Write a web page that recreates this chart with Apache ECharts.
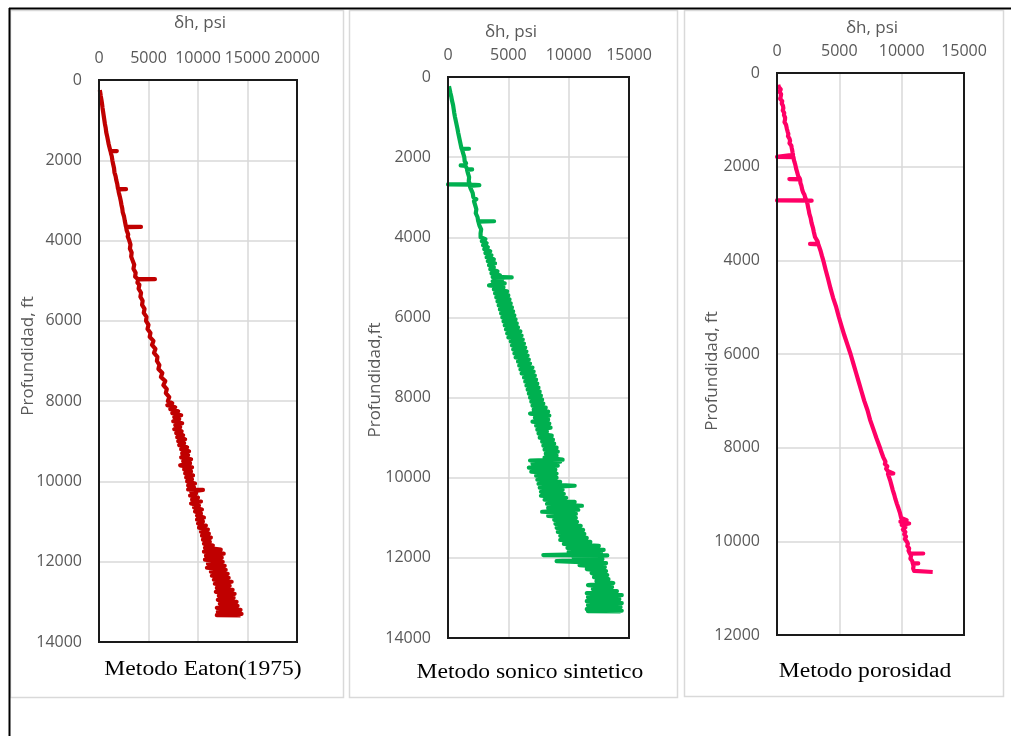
<!DOCTYPE html>
<html>
<head>
<meta charset="utf-8">
<script src="https://cdn.jsdelivr.net/npm/echarts@6/dist/echarts.min.js"></script>
<style>
  html, body { margin: 0; padding: 0; background: #fff; }
  #chart { width: 1011px; height: 736px; }
</style>
</head>
<body>
<div id="chart"></div>
<script>
// Pressure logs, each row is [depth ft, δh psi]
const eatonLog = [
  [250,80],[300,120],[400,180],[500,250],[600,310],[700,360],[800,420],[900,480],[1000,540],
  [1100,600],[1200,680],[1300,730],[1400,820],[1500,900],[1600,980],[1700,1080],[1765,1150],
  [1770,1800],[1775,1170],[1850,1230],[1900,1290],[2000,1350],[2100,1430],[2200,1520],[2300,1560],
  [2400,1680],[2500,1750],[2600,1850],[2715,1920],[2720,2730],[2725,1950],[2800,2000],[2900,2100],
  [3000,2190],[3100,2260],[3200,2350],[3300,2400],[3400,2530],[3500,2600],[3600,2680],[3655,2720],
  [3660,4240],[3665,2740],[3750,2800],[3850,2950],[3900,2900],[4000,3060],[4100,3180],[4200,3120],
  [4300,3300],[4400,3250],[4500,3400],[4600,3560],[4700,3480],[4800,3700],[4900,3650],[4955,3900],
  [4960,5650],[4965,3950],[5050,3880],[5100,4080],[5200,4000],[5300,4250],[5400,4180],[5500,4410],
  [5600,4350],[5700,4600],[5800,4520],[5900,4800],[6000,4750],[6100,5000],[6200,4900],[6300,5200],
  [6400,5120],[6500,5500],[6600,5350],[6700,5700],[6800,5550],[6900,5900],[7000,5850],[7100,6100],
  [7200,6000],[7300,6400],[7400,6250],[7500,6700],[7600,6500],[7700,6850],[7800,6750],[7900,7100],
  [8000,6950],[8050,7400],[8100,6900],[8150,7700],[8200,7200],[8250,8000],[8300,7400],[8350,8300],
  [8400,7600],[8450,8100],[8500,7500],[8550,8400],[8600,7700],[8650,8200],[8700,7600],[8750,8350],
  [8800,7800],[8850,8500],[8900,7900],[8950,8700],[9000,8000],[9050,8600],[9100,8100],[9150,8900],
  [9200,8300],[9250,9100],[9300,8400],[9350,9000],[9400,8300],[9450,9300],[9500,8500],[9550,9200],
  [9600,8200],[9650,9400],[9700,8600],[9750,9300],[9800,8700],[9850,9500],[9900,8800],[9950,9400],
  [10000,8900],[10050,9700],[10100,9000],[10150,9600],[10200,9000],[10210,10500],[10250,9300],
  [10300,9800],[10350,9200],[10400,10000],[10450,9400],[10500,10300],[10550,9300],[10600,10100],
  [10650,9600],[10700,10400],[10750,9700],[10800,10300],[10850,9900],[10900,10600],[10950,9900],
  [11000,10500],[11050,10000],[11100,10800],[11150,10100],[11200,11000],[11250,10300],[11300,11100],
  [11350,10400],[11400,11300],[11450,10500],[11500,11200],[11550,10600],[11600,11500],[11650,10700],
  [11700,12300],[11750,10600],[11800,12600],[11850,10800],[11900,12400],[11950,10700],[12000,12500],
  [12050,11000],[12100,12700],[12150,10900],[12200,12800],[12250,11300],[12300,13000],[12350,11400],
  [12400,13100],[12450,11600],[12500,13400],[12550,11700],[12600,13200],[12650,11900],[12700,13500],
  [12750,11800],[12800,13700],[12850,12100],[12900,13600],[12950,12000],[13000,13900],[13050,12200],
  [13100,14000],[13150,11900],[13200,14300],[13250,12000],[13300,14400],[13330,11900],[13340,14300]
];

const sonicLog = [
  [230,80],[300,130],[400,200],[500,280],[600,340],[700,420],[800,470],[900,520],[1000,580],
  [1100,650],[1200,720],[1300,790],[1400,850],[1500,920],[1600,990],[1700,1060],[1785,1120],
  [1790,1740],[1795,1150],[1900,1250],[2000,1350],[2100,1380],[2150,1500],[2200,1400],[2205,1050],
  [2220,1450],[2300,1600],[2305,2000],[2320,1580],[2400,1650],[2500,1750],[2600,1720],[2675,1820],
  [2680,0],[2685,1850],[2700,2600],[2720,1800],[2800,1900],[2900,2050],[3000,2100],[3050,2350],
  [3100,2150],[3200,2250],[3300,2350],[3400,2300],[3500,2450],[3595,2500],[3600,3820],[3610,2520],
  [3700,2600],[3800,2750],[3900,2700],[4000,2700],[4050,3100],[4100,2800],[4150,3200],[4200,2900],
  [4250,3300],[4300,3000],[4350,3500],[4400,3100],[4450,3600],[4500,3200],[4550,3800],[4600,3300],
  [4650,3900],[4700,3400],[4750,3800],[4800,3500],[4850,4100],[4900,3600],[4950,4300],[4990,3700],
  [5000,5280],[5010,3800],[5050,4500],[5100,3700],[5150,4700],[5200,3400],[5220,4000],[5250,4600],
  [5300,3800],[5350,4900],[5400,3900],[5450,5000],[5500,4000],[5550,5100],[5600,4100],[5650,5200],
  [5700,4200],[5750,5300],[5800,4300],[5850,5400],[5900,4400],[5950,5500],[6000,4500],[6050,5600],
  [6100,4600],[6150,5700],[6200,4700],[6250,5800],[6300,4800],[6350,6000],[6400,4900],[6450,6100],
  [6500,5000],[6550,6200],[6600,5200],[6650,6300],[6700,5300],[6750,6400],[6800,5400],[6850,6500],
  [6900,5500],[6950,6600],[7000,5600],[7050,6700],[7100,5800],[7150,6800],[7200,5900],[7250,7000],
  [7300,6000],[7350,7100],[7400,6100],[7450,7200],[7500,6300],[7550,7300],[7600,6400],[7650,7400],
  [7700,6500],[7750,7500],[7800,6600],[7850,7600],[7900,6700],[7950,7700],[8000,6800],[8050,7800],
  [8100,6900],[8150,7900],[8200,7000],[8250,8100],[8300,7100],[8350,8300],[8400,6800],[8450,8400],
  [8500,7200],[8550,8300],[8600,7000],[8650,8400],[8700,7300],[8750,8500],[8800,7400],[8850,8200],
  [8900,7500],[8950,8600],[9000,7600],[9050,8700],[9100,7800],[9150,8800],[9200,7900],[9250,9000],
  [9300,8000],[9350,9100],[9400,8100],[9450,9000],[9500,8000],[9550,9500],[9570,6800],[9600,9300],
  [9650,7000],[9700,9100],[9750,6700],[9800,8900],[9850,6900],[9900,9000],[9950,7300],[10000,9000],
  [10050,7400],[10100,9300],[10150,7500],[10200,10500],[10250,7600],[10300,9500],[10350,7700],
  [10400,9600],[10450,7700],[10500,9800],[10550,8000],[10600,10500],[10650,8200],[10700,11100],
  [10750,8300],[10800,10800],[10850,7800],[10900,10600],[10950,8300],[11000,10600],[11050,8800],
  [11100,10700],[11150,8900],[11200,11000],[11250,9000],[11300,11200],[11350,9100],[11400,11300],
  [11450,9300],[11500,11500],[11550,9300],[11600,11800],[11650,9600],[11700,12500],[11750,9900],
  [11800,12900],[11850,10000],[11900,12700],[11930,7900],[11940,13200],[11980,10400],[12030,12800],
  [12080,9000],[12130,13100],[12180,10900],[12230,13000],[12280,11500],[12330,13100],[12380,11900],
  [12430,13200],[12480,12100],[12530,13300],[12580,12300],[12630,13700],[12680,11600],[12730,13600],
  [12780,12000],[12830,14000],[12880,11500],[12930,14400],[12980,11600],[13030,14200],[13080,11500],
  [13130,14400],[13180,11600],[13230,14300],[13280,11500],[13320,14400],[13330,11600],[13335,14300]
];

const porosityLog = [
  [250,100],[270,250],[300,150],[350,300],[400,200],[450,330],[500,300],[550,250],[600,420],
  [650,380],[700,480],[750,510],[800,460],[850,580],[900,560],[950,650],[1000,640],[1050,600],
  [1100,720],[1150,760],[1200,800],[1250,850],[1300,910],[1350,880],[1400,1000],[1450,1050],
  [1500,1000],[1550,1150],[1600,1180],[1650,1220],[1700,1250],[1750,1290],[1785,1310],[1790,0],
  [1795,1320],[1850,1350],[1900,1400],[1950,1460],[2000,1500],[2050,1540],[2100,1600],[2150,1650],
  [2200,1700],[2260,1840],[2265,990],[2270,1850],[2300,1870],[2350,1880],[2400,1950],[2450,1990],
  [2500,2030],[2550,2100],[2600,2200],[2650,2250],[2715,2350],[2720,0],[2725,2780],[2730,2380],
  [2800,2450],[2850,2480],[2900,2520],[2950,2560],[3000,2590],[3100,2700],[3200,2770],[3300,2880],
  [3400,2960],[3500,3050],[3600,3260],[3645,3300],[3650,2650],[3660,3320],[3700,3360],[3800,3500],
  [3900,3600],[4000,3710],[4200,3900],[4400,4100],[4600,4290],[4800,4500],[5000,4750],[5200,4950],
  [5400,5170],[5600,5400],[5800,5650],[6000,5900],[6200,6120],[6400,6340],[6600,6560],[6800,6780],
  [7000,7000],[7200,7260],[7400,7460],[7600,7720],[7800,7980],[8000,8260],[8100,8380],[8200,8520],
  [8300,8700],[8350,8650],[8400,8850],[8450,8750],[8500,8900],[8550,9330],[8560,8900],[8600,9000],
  [8700,9080],[8800,9180],[8900,9280],[9000,9400],[9100,9500],[9200,9620],[9300,9750],[9400,9870],
  [9500,9960],[9550,10400],[9580,9900],[9620,10600],[9650,10000],[9700,10300],[9750,10100],
  [9800,10300],[9850,10200],[9900,10350],[9950,10250],[10000,10400],[10050,10500],[10100,10450],
  [10150,10600],[10200,10550],[10255,10650],[10260,11730],[10265,10700],[10320,10750],[10370,10700],
  [10420,10850],[10465,10880],[10470,11330],[10475,10900],[10530,10950],[10580,10920],[10630,11000],
  [10650,10990],[10655,12490]
];

// Axis ranges and captions
const depthMax = [14000, 14000, 12000];
const psiMax = [20000, 15000, 15000];
const panelTitles = ['Metodo Eaton(1975)', 'Metodo sonico sintetico', 'Metodo porosidad'];
const depthNames = ['Profundidad, ft', 'Profundidad,ft', 'Profundidad, ft'];
const psiName = 'δh, psi';
const lineColors = ['#C00000', '#00B050', '#FF0066'];
const logs = [eatonLog, sonicLog, porosityLog];

const grids = [
  { left: 99, top: 80, width: 198, height: 562 },
  { left: 448, top: 77, width: 181, height: 561 },
  { left: 777, top: 73, width: 187, height: 562 }
];

const tickFont = { fontFamily: 'Open Sans', fontSize: 16, color: '#595959' };
const plainNumber = v => String(v);

const chart = echarts.init(document.getElementById('chart'), null, { renderer: 'canvas' });

const option = {
  backgroundColor: '#fff',
  animation: false,
  grid: grids.map(g => Object.assign({ show: false, containLabel: false, outerBoundsMode: 'none' }, g)),
  xAxis: grids.map((g, i) => ({
    type: 'value', gridIndex: i, position: 'top',
    min: 0, max: psiMax[i], interval: 5000,
    axisLine: { show: false }, axisTick: { show: false },
    splitLine: { show: true, lineStyle: { color: '#d9d9d9', width: 1.5 } },
    axisLabel: Object.assign({ margin: 14, formatter: plainNumber, showMinLabel: true, showMaxLabel: true, hideOverlap: false }, tickFont)
  })),
  yAxis: grids.map((g, i) => ({
    type: 'value', gridIndex: i, inverse: true,
    min: 0, max: depthMax[i], interval: 2000,
    axisLine: { show: false }, axisTick: { show: false },
    splitLine: { show: true, lineStyle: { color: '#d9d9d9', width: 1.5 } },
    axisLabel: Object.assign({ margin: 17, formatter: plainNumber, showMinLabel: true, showMaxLabel: true, hideOverlap: false }, tickFont)
  })),
  series: logs.map((log, i) => ({
    type: 'line', xAxisIndex: i, yAxisIndex: i,
    data: log.map(r => [r[1], r[0]]),
    showSymbol: false, symbol: 'none',
    lineStyle: { color: lineColors[i], width: 4.2, join: 'round', cap: 'butt' },
    z: 3
  })),
  graphic: [
    // outer frame (top and left edges)
    { type: 'line', shape: { x1: 9, y1: 8.5, x2: 1011, y2: 8.5 }, style: { stroke: '#000', lineWidth: 2 }, z: 10 },
    { type: 'line', shape: { x1: 9.5, y1: 8, x2: 9.5, y2: 736 }, style: { stroke: '#000', lineWidth: 2 }, z: 10 },
    // panel boxes
    { type: 'rect', shape: { x: 10.5, y: 10.5, width: 333, height: 687 }, style: { fill: 'none', stroke: '#d9d9d9', lineWidth: 1.5 }, z: 0 },
    { type: 'rect', shape: { x: 349.5, y: 10.5, width: 328, height: 687 }, style: { fill: 'none', stroke: '#d9d9d9', lineWidth: 1.5 }, z: 0 },
    { type: 'rect', shape: { x: 684.5, y: 10.5, width: 319, height: 686 }, style: { fill: 'none', stroke: '#d9d9d9', lineWidth: 1.5 }, z: 0 },
    // plot frames
    ...grids.map(g => ({
      type: 'rect', shape: { x: g.left, y: g.top, width: g.width, height: g.height },
      style: { fill: 'none', stroke: '#1a1a1a', lineWidth: 2 }, z: 20
    })),
    // psi axis names
    ...[[200, 23], [511, 32], [872, 28]].map(p => ({
      type: 'text', x: p[0], y: p[1], z: 20,
      style: { text: psiName, fill: '#595959', font: '17px "Open Sans"', textAlign: 'center', textVerticalAlign: 'middle' }
    })),
    // depth axis names
    ...[[28, 356], [375, 380], [712, 371]].map((p, i) => ({
      type: 'text', x: p[0], y: p[1], rotation: Math.PI / 2, z: 20,
      style: { text: depthNames[i], fill: '#595959', font: '17px "Open Sans"', textAlign: 'center', textVerticalAlign: 'middle' }
    })),
    // panel captions
    ...[[203, 670], [530, 673], [865, 672]].map((p, i) => ({
      type: 'text', x: p[0], y: p[1], scaleX: 1.18, z: 20,
      style: { text: panelTitles[i], fill: '#000', font: '20px "Liberation Serif"', textAlign: 'center', textVerticalAlign: 'middle' }
    }))
  ]
};

chart.setOption(option);
</script>
</body>
</html>
